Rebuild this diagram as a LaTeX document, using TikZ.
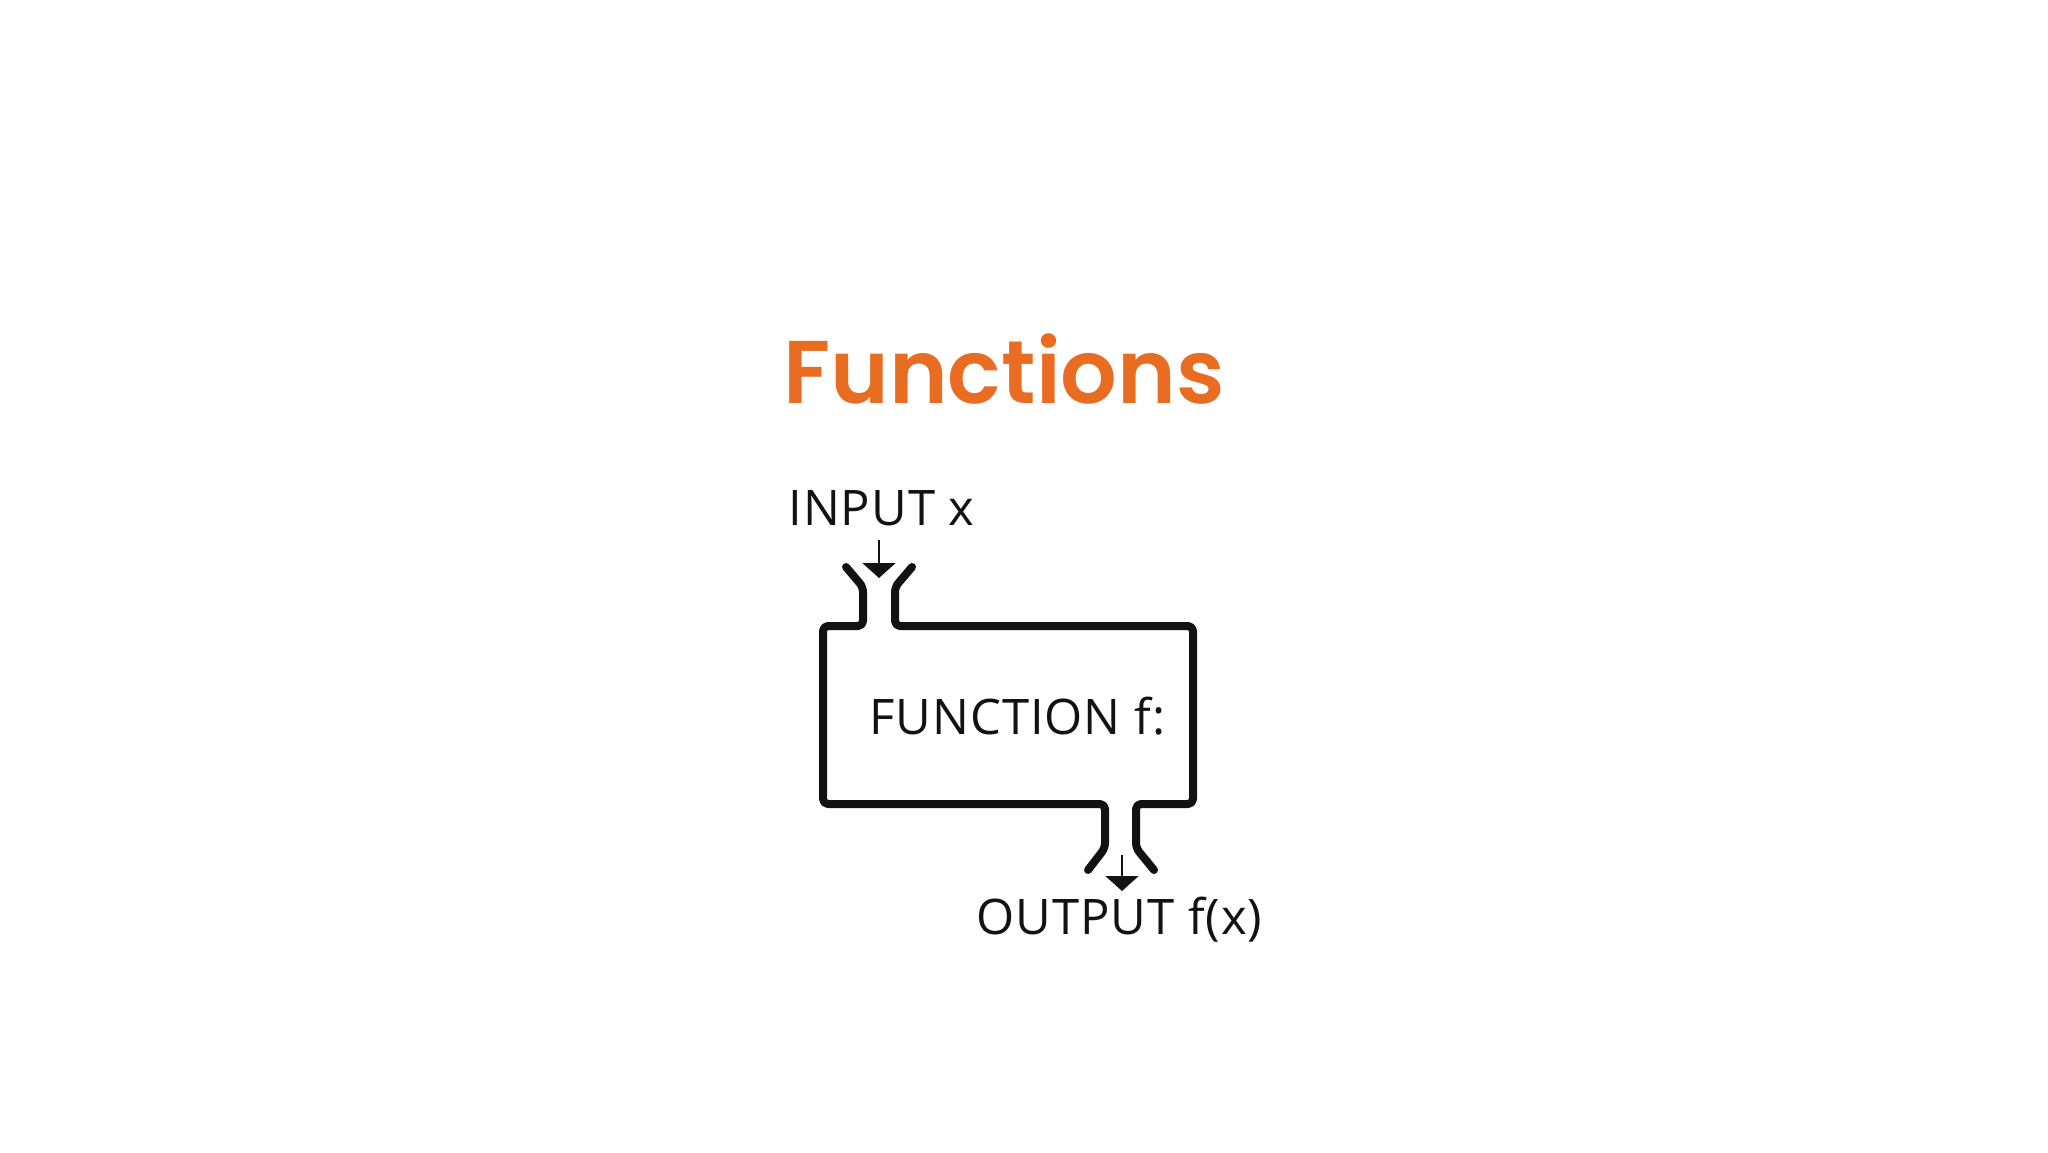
\documentclass[tikz,border=0pt]{standalone}
\usepackage{fontspec}
\setmainfont{Open Sans}[LetterSpace=2]
\newfontfamily\titlefont{Poppins SemiBold}
\usepackage{xcolor}
\usetikzlibrary{arrows.meta}
\definecolor{funcOrange}{RGB}{232,108,34}
\definecolor{funcInk}{RGB}{18,18,18}

\begin{document}
\begin{tikzpicture}[x=0.5pt,y=-0.5pt,
  label text/.style={inner sep=0pt, text=funcInk, font=\fontsize{24.5}{28}\selectfont},
  wall/.style={funcInk, line width=4pt, line cap=round, line join=round, rounded corners=2.5pt},
  flow/.style={funcInk, line width=1pt, -{Triangle[width=16.5pt,length=7.5pt]}}]
\useasboundingbox (0,0) rectangle (2048,1152);

\node[inner sep=0pt, anchor=base, text=funcOrange, font=\titlefont\fontsize{44.5}{50}\selectfont] (title) at (1004,403) {Functions};

% machine outline with its two funnels
\draw[wall] (846,567) -- (863,587) -- (863,626) -- (823,626) -- (823,804) -- (1105,804) -- (1105,848) -- (1088,870);
\draw[wall] (912,567) -- (895,587) -- (895,626) -- (1193,626) -- (1193,804) -- (1136,804) -- (1136,848) -- (1154,870);

\node[label text, anchor=base west] (input) at (788,525) {INPUT x};
\node[label text, anchor=base west] (machine) at (869,734) {FUNCTION f:};
\node[label text, anchor=base west] (output) at (976,934) {OUTPUT f(x)};

\coordinate (inTop) at (879,540);
\coordinate (inTip) at (879,578);
\coordinate (outTop) at (1122,855);
\coordinate (outTip) at (1122,891);
\draw[flow] (inTop) -- (inTip);
\draw[flow] (outTop) -- (outTip);
\end{tikzpicture}
\end{document}
